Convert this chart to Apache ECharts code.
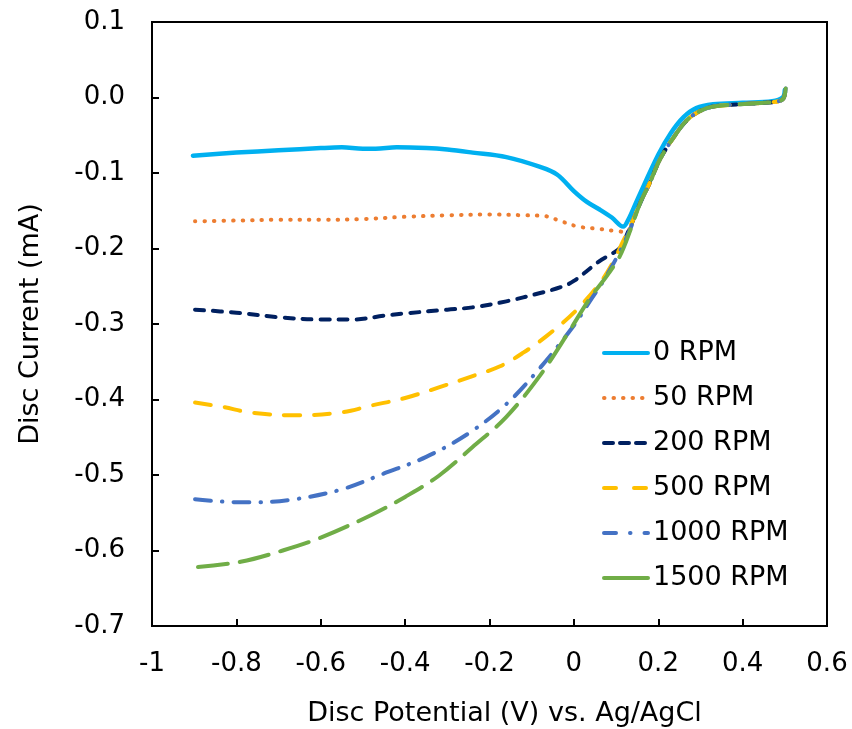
<!DOCTYPE html>
<html>
<head>
<meta charset="utf-8">
<script src="https://cdn.jsdelivr.net/npm/echarts@6/dist/echarts.min.js"></script>
<style>html,body{margin:0;padding:0;background:#fff}#c{width:852px;height:729px}</style>
</head>
<body>
<div id="c"></div>
<script>
// Shared rising segment (all curves overlap above ~0.13 V)
const riseCommon = [[0.157,-0.140],[0.180,-0.113],[0.204,-0.082],[0.235,-0.054],[0.268,-0.030],[0.299,-0.018],[0.33,-0.012],[0.394,-0.009],[0.45,-0.007],[0.485,-0.005],[0.497,-0.001],[0.502,0.012]];
const riseCyan = [[0.15,-0.136],[0.2,-0.076],[0.23,-0.047],[0.26,-0.026],[0.29,-0.014],[0.33,-0.009],[0.4,-0.007],[0.47,-0.005],[0.495,0.0],[0.5,0.01]];

const rpm0 = [[-0.903,-0.077],[-0.8,-0.073],[-0.7,-0.070],[-0.6,-0.067],[-0.55,-0.066],[-0.5,-0.068],[-0.47,-0.068],[-0.42,-0.066],[-0.35,-0.067],[-0.3,-0.069],[-0.24,-0.073],[-0.16,-0.079],[-0.08,-0.092],[-0.04,-0.102],[0.0,-0.124],[0.03,-0.138],[0.06,-0.148],[0.09,-0.159],[0.117,-0.171],[0.128,-0.163]];
const rpm50 = [[-0.898,-0.164],[-0.8,-0.163],[-0.7,-0.162],[-0.6,-0.162],[-0.5,-0.161],[-0.4,-0.158],[-0.3,-0.156],[-0.2,-0.155],[-0.12,-0.156],[-0.07,-0.157],[-0.03,-0.164],[0.01,-0.171],[0.06,-0.174],[0.1,-0.177],[0.125,-0.178],[0.135,-0.170]];
const rpm200 = [[-0.898,-0.281],[-0.8,-0.285],[-0.7,-0.291],[-0.6,-0.294],[-0.52,-0.294],[-0.45,-0.289],[-0.4,-0.286],[-0.3,-0.281],[-0.24,-0.278],[-0.16,-0.270],[-0.08,-0.259],[-0.03,-0.251],[0.0,-0.243],[0.06,-0.217],[0.09,-0.207],[0.11,-0.199],[0.13,-0.176]];
const rpm500 = [[-0.898,-0.404],[-0.83,-0.410],[-0.77,-0.417],[-0.66,-0.421],[-0.55,-0.417],[-0.48,-0.408],[-0.4,-0.398],[-0.32,-0.384],[-0.24,-0.369],[-0.175,-0.356],[-0.12,-0.338],[-0.065,-0.316],[0.0,-0.285],[0.06,-0.247],[0.09,-0.221],[0.117,-0.190],[0.132,-0.173]];
const rpm1000 = [[-0.898,-0.532],[-0.8,-0.536],[-0.75,-0.536],[-0.66,-0.532],[-0.55,-0.519],[-0.45,-0.498],[-0.35,-0.476],[-0.25,-0.445],[-0.16,-0.406],[-0.08,-0.358],[0.0,-0.302],[0.04,-0.268],[0.07,-0.243],[0.11,-0.203],[0.133,-0.175]];
const rpm1500 = [[-0.891,-0.622],[-0.79,-0.615],[-0.69,-0.600],[-0.6,-0.583],[-0.48,-0.553],[-0.4,-0.529],[-0.32,-0.501],[-0.24,-0.463],[-0.16,-0.423],[-0.08,-0.368],[-0.016,-0.314],[0.038,-0.266],[0.08,-0.235],[0.109,-0.210],[0.135,-0.174]];

const seriesNames = ['0 RPM','50 RPM','200 RPM','500 RPM','1000 RPM','1500 RPM'];
const seriesColors = ['#00B0F0','#ED7D31','#002060','#FFC000','#4472C4','#70AD47'];
const xTicks = {min:-1, max:0.6, interval:0.2};
const yTicks = {min:-0.7, max:0.1, interval:0.1};

const dataSets = [rpm0.concat(riseCyan), rpm50.concat(riseCommon), rpm200.concat(riseCommon), rpm500.concat(riseCommon), rpm1000.concat(riseCommon), rpm1500.concat(riseCommon)];
const dashes = ['solid',[0.5,9],[9,9],[16,14],[16,11,0.5,11],[30,12]];
const legendDashes = ['solid',[0.5,9],[9,7],[12,18],[12,14,0.5,14],'solid'];
const widths = [4.5,4,4,4,4,4];

const font = 'DejaVu Sans, Liberation Sans, Arial, sans-serif';
const chart = echarts.init(document.getElementById('c'), null, {renderer:'canvas'});
chart.setOption({
  animation:false,
  backgroundColor:'#fff',
  grid:{left:152,right:25,top:22,bottom:103,outerBoundsMode:'none',containLabel:false,show:true,borderColor:'#000',borderWidth:2,backgroundColor:'transparent'},
  legend:{
    orient:'vertical', left:597, top:334, itemWidth:44, itemHeight:14, itemGap:17,
    textStyle:{fontFamily:font,fontSize:27,color:'#000',lineHeight:28},
    itemStyle:{color:'transparent',borderWidth:0,opacity:0},
    data:seriesNames.map((n,i)=>({name:n,lineStyle:{color:seriesColors[i],width:4,type:legendDashes[i],cap:'round'}}))
  },
  xAxis:{
    type:'value', min:xTicks.min, max:xTicks.max, interval:xTicks.interval,
    splitLine:{show:false},
    axisLine:{onZero:false,lineStyle:{color:'#000',width:2}},
    axisTick:{inside:true,length:7,lineStyle:{color:'#000',width:2}},
    axisLabel:{fontFamily:font,fontSize:26,color:'#000',margin:25,formatter:v=>String(Math.round(v*10)/10)},
    name:'Disc Potential (V) vs. Ag/AgCl', nameLocation:'middle', nameGap:74,
    nameTextStyle:{fontFamily:font,fontSize:27,color:'#000',padding:[0,0,0,30]}
  },
  yAxis:{
    type:'value', min:yTicks.min, max:yTicks.max, interval:yTicks.interval,
    splitLine:{show:false},
    axisLine:{onZero:false,lineStyle:{color:'#000',width:2}},
    axisTick:{inside:true,length:7,lineStyle:{color:'#000',width:2}},
    axisLabel:{fontFamily:font,fontSize:26,color:'#000',margin:27,formatter:v=>{const r=Math.round(v*10)/10;return (r===0?0:r).toFixed(1);}},
    name:'Disc Current (mA)', nameLocation:'middle', nameGap:108, nameRotate:90,
    nameTextStyle:{fontFamily:font,fontSize:27,color:'#000'}
  },
  series:seriesNames.map((n,i)=>({
    name:n, type:'line', data:dataSets[i], smooth:0.35, symbol:'none', showSymbol:false,
    lineStyle:{color:seriesColors[i],width:widths[i],type:dashes[i],cap:'round',join:'round'},
    itemStyle:{color:seriesColors[i]}
  }))
});
</script>
</body>
</html>
